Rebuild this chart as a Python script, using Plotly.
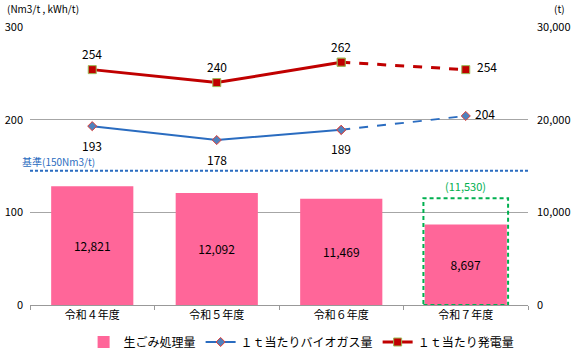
import plotly.graph_objects as go

categories = ["令和４年度", "令和５年度", "令和６年度", "令和７年度"]
waste_t = [12821, 12092, 11469, 8697]
planned_t = 11530
biogas = [193, 178, 189, 204]
power = [254, 240, 262, 254]
baseline_value = 145
baseline_label = "基準(150Nm3/t)"

FONT = "Noto Sans CJK JP"
RED = "#C00000"
BLUE = "#2A6CC0"
PINK = "#FF6699"
GREEN = "#00B050"

fig = go.Figure()

fig.add_trace(go.Bar(
    x=categories, y=waste_t, yaxis="y2", name="生ごみ処理量",
    marker=dict(color=PINK, line=dict(width=0)), width=0.66,
    text=[f"{v:,}" for v in waste_t], textposition="inside",
    insidetextanchor="middle", textfont=dict(color="black", size=12, family=FONT),
    hoverinfo="skip",
))

fig.add_trace(go.Scatter(
    x=categories[:3], y=biogas[:3], mode="lines+markers", name="１ｔ当たりバイオガス量",
    line=dict(color=BLUE, width=2),
    marker=dict(symbol="diamond", size=7, color="#4F81BD", line=dict(color="#E0403A", width=1)),
))
fig.add_trace(go.Scatter(
    x=categories[:3], y=power[:3], mode="lines+markers", name="１ｔ当たり発電量",
    line=dict(color=RED, width=3),
    marker=dict(symbol="square", size=8, color=RED, line=dict(color="#9BBB59", width=1)),
))
fig.add_trace(go.Scatter(
    x=categories[2:], y=biogas[2:], mode="lines+markers", showlegend=False,
    line=dict(color=BLUE, width=2, dash="dash"),
    marker=dict(symbol="diamond", size=7, color="#4F81BD", line=dict(color="#E0403A", width=1)),
))
fig.add_trace(go.Scatter(
    x=categories[2:], y=power[2:], mode="lines+markers", showlegend=False,
    line=dict(color=RED, width=3, dash="dash"),
    marker=dict(symbol="square", size=8, color=RED, line=dict(color="#9BBB59", width=1)),
))

lab_font = dict(size=12, color="black", family=FONT)
annotations = []
for i, (c, v) in enumerate(zip(categories, power)):
    if i == 3:
        annotations.append(dict(x=c, y=v, text=str(v), showarrow=False, xshift=21, yshift=3, font=lab_font))
    else:
        annotations.append(dict(x=c, y=v, text=str(v), showarrow=False, yshift=16, font=lab_font))
for i, (c, v) in enumerate(zip(categories, biogas)):
    if i == 3:
        annotations.append(dict(x=c, y=v, text=str(v), showarrow=False, xshift=19, yshift=2, font=lab_font))
    else:
        annotations.append(dict(x=c, y=v, text=str(v), showarrow=False, yshift=-19, font=lab_font))

annotations.append(dict(x=categories[3], y=planned_t, yref="y2", text=f"({planned_t:,})",
                        showarrow=False, yshift=12, font=dict(size=11, color=GREEN, family=FONT)))
annotations.append(dict(x=0, xref="paper", xanchor="left", y=baseline_value, yref="y",
                        text=baseline_label, showarrow=False, xshift=-10, yshift=9,
                        font=dict(size=10, color=BLUE, family=FONT)))
annotations.append(dict(x=-0.05, xref="paper", xanchor="left", y=1.065, yref="paper",
                        yanchor="middle", text="(Nm3/t , kWh/t)", showarrow=False,
                        font=dict(size=10, color="black", family=FONT)))
annotations.append(dict(x=1.064, xref="paper", xanchor="center", y=1.065, yref="paper",
                        yanchor="middle", text="(t)", showarrow=False,
                        font=dict(size=10, color="black", family=FONT)))

shapes = [
    dict(type="line", xref="paper", x0=0, x1=1, yref="y", y0=baseline_value, y1=baseline_value,
         line=dict(color=BLUE, width=2, dash="3px,2px"), layer="above"),
    dict(type="rect", xref="x", x0=3 - 0.34, x1=3 + 0.34, yref="y2", y0=0, y1=planned_t,
         line=dict(color=GREEN, width=2, dash="4px,3px"), fillcolor="rgba(0,0,0,0)", layer="above"),
]

fig.update_layout(
    width=580, height=354,
    margin=dict(l=30, r=52, t=27, b=49, autoexpand=False),
    paper_bgcolor="white", plot_bgcolor="white",
    font=dict(family=FONT, size=11, color="black"),
    showlegend=True,
    legend=dict(orientation="h", x=0.52, xref="container", xanchor="center",
                y=12 / 354, yref="container", yanchor="middle",
                font=dict(size=12, family=FONT), traceorder="normal", itemwidth=30),
    xaxis=dict(showline=True, linecolor="#999999", linewidth=1, ticks="outside",
               tickcolor="#999999", ticklen=4, showgrid=False, tickfont=dict(size=11),
               tickson="boundaries"),
    yaxis=dict(range=[0, 300], tickvals=[0, 100, 200, 300], showgrid=True,
               gridcolor="#A6A6A6", gridwidth=1, zeroline=False, showline=False,
               tickfont=dict(size=11), ticks="", ticklabelstandoff=6),
    yaxis2=dict(range=[0, 30000], tickvals=[0, 10000, 20000, 30000],
                ticktext=["0", "10,000", "20,000", "30,000"], overlaying="y", side="right",
                showgrid=False, zeroline=False, showline=False, tickfont=dict(size=11),
                ticklabelstandoff=8),
    annotations=annotations, shapes=shapes,
)

fig.write_html("out.html")
